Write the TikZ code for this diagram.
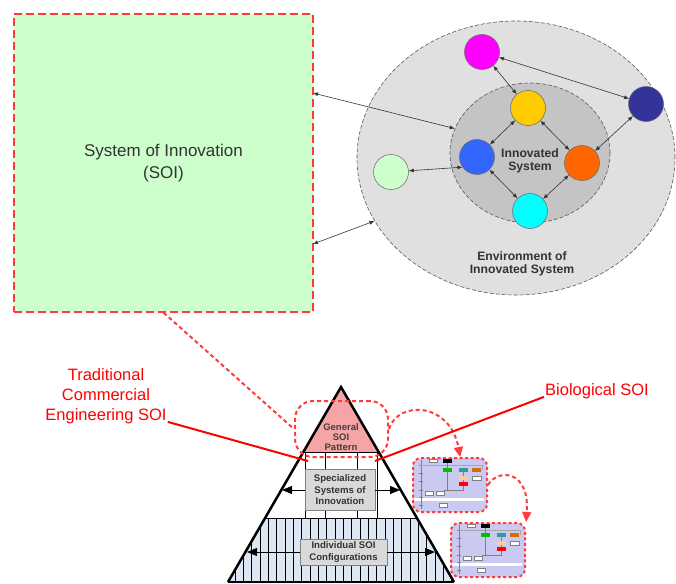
\documentclass[tikz,border=0pt]{standalone}
\usepackage{fontspec}
\setmainfont{Liberation Sans}
\usetikzlibrary{arrows.meta,shapes.geometric}

\definecolor{soigreen}{HTML}{CCFFCC}
\definecolor{soired}{HTML}{FF3B3B}
\definecolor{envgray}{HTML}{E0E0E0}
\definecolor{sysgray}{HTML}{C4C4C4}
\definecolor{pinktop}{HTML}{F5A5A5}
\definecolor{layerblue}{HTML}{DDE7F4}
\definecolor{boxgray}{HTML}{D9D9D9}
\definecolor{lavender}{HTML}{C9C9F2}
\definecolor{linkgray}{HTML}{333333}
\definecolor{cmagenta}{HTML}{FF00FF}
\definecolor{cyellow}{HTML}{FFCC00}
\definecolor{cblue}{HTML}{3366FF}
\definecolor{corange}{HTML}{FF6600}
\definecolor{ccyan}{HTML}{00FFFF}
\definecolor{cnavy}{HTML}{333399}

% tiny screenshot of a model, drawn inside a thumbnail node
\newcommand{\minidiagram}[1]{%
  \begin{scope}[shift={(#1.north west)}]
    \fill[white] (2,41) rectangle (72,44);
    \draw[gray,line width=0.4pt] (9,3) -- (9,52);
    \foreach \t in {8,16,24,33,40,48}
      \draw[gray,line width=0.3pt] (7,\t) -- (11,\t);
    \draw[gray!70,line width=0.3pt] (9,8) -- (70,8) -- (70,13);
    \draw[gray,line width=0.3pt] (35,6) -- (35,34) (51,15) -- (51,25) (51,29) -- (51,33) -- (32,33);
    \filldraw[fill=white,draw=gray,line width=0.2pt] (17,2) rectangle (25,5);
    \fill[black] (31,2) rectangle (40,6);
    \fill[green!75!black] (31,11) rectangle (40,15);
    \fill[teal!80] (47,11) rectangle (56,15);
    \fill[orange!85!black] (60,11) rectangle (69,15);
    \fill[orange!40] (47,19) rectangle (56,23);
    \filldraw[fill=white,draw=gray,line width=0.2pt] (60,19) rectangle (69,23);
    \fill[red] (47,25) rectangle (56,29);
    \filldraw[fill=white,draw=gray,line width=0.2pt] (13,34) rectangle (21,38);
    \filldraw[fill=white,draw=gray,line width=0.2pt] (24,34) rectangle (32,38);
    \filldraw[fill=white,draw=gray,line width=0.2pt] (27,46) rectangle (35,50);
  \end{scope}}

\begin{document}
\begin{tikzpicture}[
    x=1pt, y=-1pt,
    actor/.style={circle, draw=gray!80!black, line width=0.5pt, minimum size=35pt, inner sep=0pt},
    link/.style={{Latex[length=5pt,width=4pt]}-{Latex[length=5pt,width=4pt]}, draw=linkgray, line width=0.6pt},
    region/.style={ellipse, draw=gray!70!black, line width=0.6pt, dash pattern=on 4pt off 2pt},
    blob/.style={draw=soired, line width=2pt, dash pattern=on 4pt off 3pt, rounded corners=18pt},
    flow/.style={draw=soired, line width=2pt, dash pattern=on 4pt off 3pt, -{Triangle[length=10pt,width=9pt]}},
    redline/.style={draw=red, line width=2pt},
    redlabel/.style={text=red, align=center, inner sep=1pt, font=\fontsize{16.5}{20}\selectfont},
    layerbox/.style={draw=gray, fill=boxgray, line width=0.6pt, align=center, inner sep=1pt,
                     text=black!80, font=\bfseries\fontsize{9.6}{11.5}\selectfont},
    thumb/.style={fill=lavender, draw=soired, line width=2pt, dash pattern=on 3pt off 2.5pt,
                  rounded corners=8pt, minimum width=74pt, minimum height=54pt},
    edgearrow/.style={line width=0.8pt, -{Triangle[length=10pt,width=8pt]}}
  ]
  \useasboundingbox (0,0) rectangle (676,583);

  % Environment and innovated system
  \node [region, fill=envgray, minimum width=318pt, minimum height=274pt] (env) at (516,158) {};
  \node [region, fill=sysgray, minimum width=160pt, minimum height=140pt] (inner) at (530,153) {};
  \node [align=center, text=black!80, font=\bfseries\fontsize{12.2}{13.5}\selectfont] (syslbl) at (530,161) {Innovated\\System};
  \node [align=center, text=black!80, font=\bfseries\fontsize{12.2}{13.5}\selectfont] (envlbl) at (522,264) {Environment of\\Innovated System};

  % System of innovation
  \node [draw=soired, fill=soigreen, line width=1.3pt, dash pattern=on 8pt off 4pt,
         minimum width=299pt, minimum height=298pt, align=center, text=black!80,
         font=\fontsize{17}{22}\selectfont] (soi) at (163.5,163) {System of Innovation\\(SOI)};
  \coordinate (soiA) at (313,93);
  \coordinate (soiB) at (313,244);

  % Actors
  \node [actor, fill=cmagenta] (mag) at (482,52) {};
  \node [actor, fill=cyellow] (yel) at (528,108) {};
  \node [actor, fill=cblue] (blu) at (477,157) {};
  \node [actor, fill=corange] (org) at (582,163) {};
  \node [actor, fill=ccyan] (cya) at (530,211) {};
  \node [actor, fill=cnavy] (navy) at (646,104) {};
  \node [actor, fill=soigreen] (pale) at (391,172) {};

  % Connections
  \draw [link] (mag) -- (yel);
  \draw [link] (mag) -- (navy);
  \draw [link] (yel) -- (blu);
  \draw [link] (yel) -- (org);
  \draw [link] (blu) -- (cya);
  \draw [link] (org) -- (cya);
  \draw [link] (org) -- (navy);
  \draw [link] (pale) -- (blu.215);
  \draw [link] (soiA) -- (inner.162);
  \draw [link] (soiB) -- (env.204);

  % Pyramid layers
  \coordinate (apex) at (341,387);
  \coordinate (baseL) at (228,582);
  \coordinate (baseR) at (454,582);
  \fill [pinktop] (apex) -- (303.3,452) -- (378.7,452) -- cycle;
  \fill [white] (303.3,452) -- (378.7,452) -- (417.5,518) -- (264.5,518) -- cycle;
  \fill [layerblue] (264.5,518) -- (417.5,518) -- (baseR) -- (baseL) -- cycle;
  \begin{scope}
    \clip (264.5,518) -- (417.5,518) -- (baseR) -- (baseL) -- cycle;
    \foreach \x in {235,243.33,...,456}
      \draw [line width=0.8pt] (\x,518) -- (\x,583);
  \end{scope}
  \draw [line width=0.8pt] (303.3,452) -- (378.7,452);
  \draw [line width=0.8pt] (264.5,518) -- (417.5,518);
  \foreach \x in {305,325,357,377}
    \draw [line width=0.8pt] (\x,452) -- (\x,518);

  \node [align=center, text=black!75, inner sep=0pt, font=\bfseries\fontsize{9.5}{10}\selectfont] (gen) at (341,437) {General\\SOI\\Pattern};
  \node [layerbox, minimum width=70pt, minimum height=41pt] (spec) at (340,490) {Specialized\\Systems of\\Innovation};
  \node [layerbox, minimum width=87pt, minimum height=26pt] (conf) at (343.5,552) {Individual SOI\\Configurations};
  \coordinate (specL) at (282,490);
  \coordinate (specR) at (400,490);
  \coordinate (confL) at (247,552);
  \coordinate (confR) at (435,552);
  \draw [edgearrow] (spec.west) -- (specL);
  \draw [edgearrow] (spec.east) -- (specR);
  \draw [edgearrow] (conf.west) -- (confL);
  \draw [edgearrow] (conf.east) -- (confR);
  \draw [line width=2.5pt] (baseL) -- (apex) -- (baseR);
  \draw [line width=2.5pt] (baseL) -- (baseR);

  % Pattern and its instances
  \node [blob, minimum width=93pt, minimum height=56pt] (genblob) at (341.5,429) {};
  \draw [draw=soired, line width=2pt, dash pattern=on 4pt off 3pt] (soi.south) -- (genblob.west);

  \node [thumb] (thumbA) at (450,485) {};
  \minidiagram{thumbA}
  \node [thumb] (thumbB) at (488,550) {};
  \minidiagram{thumbB}
  \draw [flow] (genblob.east) .. controls (398,400) and (450,402) .. (thumbA.70);
  \draw [flow] (thumbA.east) .. controls (498,468) and (530,470) .. (thumbB.north east);

  % Domain labels
  \node [redlabel] (tradlbl) at (106,396) {Traditional\\Commercial\\Engineering SOI};
  \node [redlabel] (biolbl) at (597,391) {Biological SOI};
  \coordinate (tradtip) at (308,461);
  \coordinate (biotip) at (375,461);
  \draw [redline] ([yshift=3pt]tradlbl.south east) -- (tradtip);
  \draw [redline] ([yshift=3pt]biolbl.south west) -- (biotip);
\end{tikzpicture}
\end{document}
